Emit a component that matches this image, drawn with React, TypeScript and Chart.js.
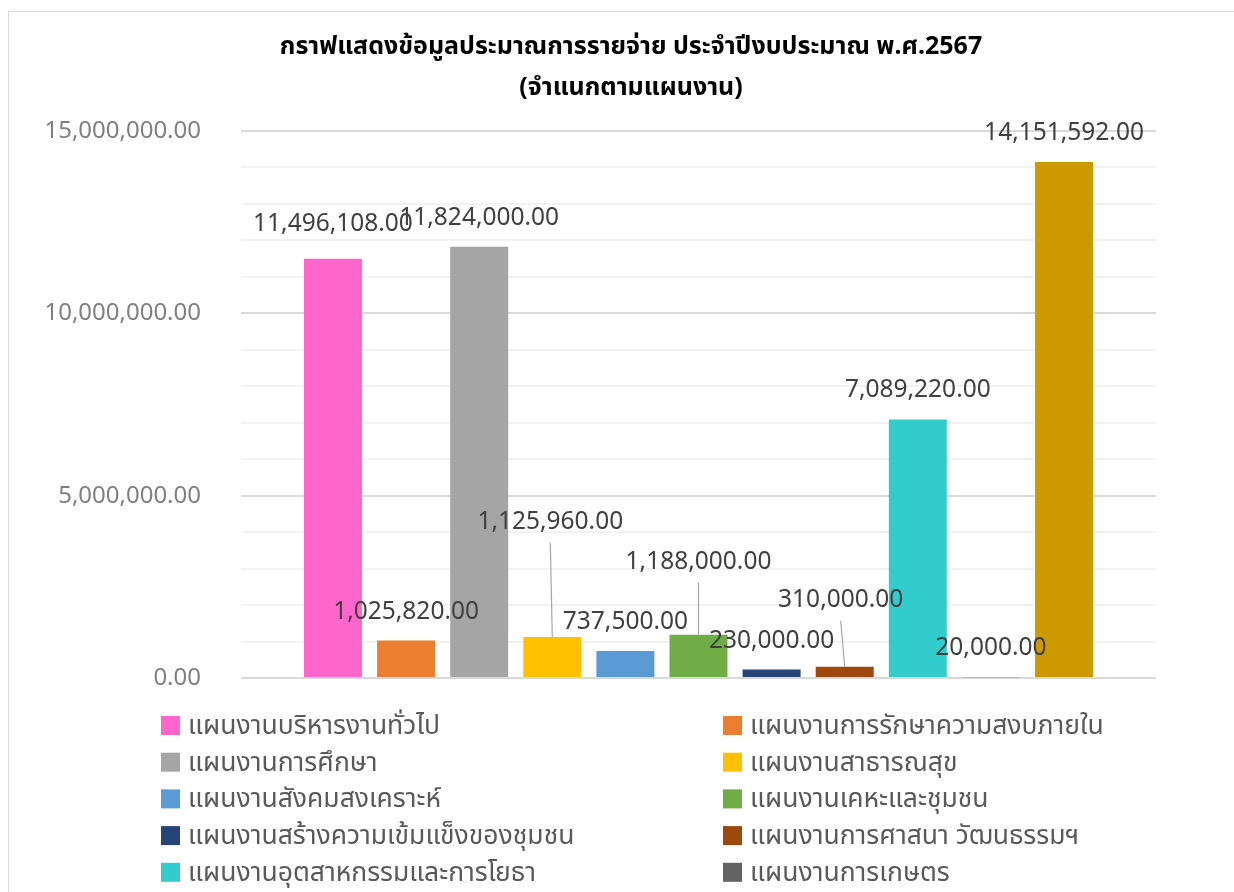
import React, { useEffect, useRef } from "react";
import { Chart, registerables } from "chart.js";

Chart.register(...registerables);

const titleLines = [
  "กราฟแสดงข้อมูลประมาณการรายจ่าย ประจำปีงบประมาณ พ.ศ.2567",
  "(จำแนกตามแผนงาน)",
];

const categories = [
  "แผนงานบริหารงานทั่วไป",
  "แผนงานการรักษาความสงบภายใน",
  "แผนงานการศึกษา",
  "แผนงานสาธารณสุข",
  "แผนงานสังคมสงเคราะห์",
  "แผนงานเคหะและชุมชน",
  "แผนงานสร้างความเข้มแข็งของชุมชน",
  "แผนงานการศาสนา วัฒนธรรมฯ",
  "แผนงานอุตสาหกรรมและการโยธา",
  "แผนงานการเกษตร",
  "งบกลาง",
];

const amounts = [
  11496108, 1025820, 11824000, 1125960, 737500, 1188000, 230000, 310000,
  7089220, 20000, 14151592,
];

const barColors = [
  "#FF66CC", "#ED7D31", "#A5A5A5", "#FFC000", "#5B9BD5", "#70AD47",
  "#264478", "#9E480E", "#33CCCC", "#636363", "#CC9900",
];

const yTickValues = [0, 5000000, 10000000, 15000000];

// label placement tweaks (dx, dy in px) and leader-line flags
const labelShift: [number, number][] = [
  [0, -6], [0, 0], [0, 0], [-2, -86], [0, 0], [0, -44], [0, 0], [-4, -38],
  [0, 0], [0, 0], [0, 0],
];
const labelLeader = [false, false, false, true, false, true, false, true, false, false, false];

const FONT = '"Noto Sans", "Noto Sans Thai", Tahoma, sans-serif';

const fmt = (v: number) =>
  v.toLocaleString("en-US", { minimumFractionDigits: 2, maximumFractionDigits: 2 });

const labelPlugin = {
  id: "barLabels",
  afterDatasetsDraw(chart: any) {
    const ctx = chart.ctx;
    const meta = chart.getDatasetMeta(0);
    ctx.save();
    ctx.font = `24.5px ${FONT}`;
    ctx.textAlign = "center";
    ctx.textBaseline = "middle";
    meta.data.forEach((bar: any, i: number) => {
      const [dx, dy] = labelShift[i];
      const lx = bar.x + dx;
      const ly = bar.y - 29 + dy;
      if (labelLeader[i]) {
        ctx.strokeStyle = "#a6a6a6";
        ctx.lineWidth = 1.2;
        ctx.beginPath();
        ctx.moveTo(lx, ly + 21);
        ctx.lineTo(bar.x, bar.y);
        ctx.stroke();
      }
      ctx.fillStyle = "#404040";
      ctx.fillText(fmt(amounts[i]), lx, ly);
    });
    ctx.restore();
  },
};

const legendPlugin = {
  id: "gridLegend",
  afterDraw(chart: any) {
    const ctx = chart.ctx;
    ctx.save();
    ctx.font = `26.5px ${FONT}`;
    ctx.textAlign = "left";
    ctx.textBaseline = "middle";
    const colX = [152, 714];
    const textGap = 27;
    const row0 = 713.5;
    const rowStep = 36.7;
    categories.forEach((name, i) => {
      const col = i % 2;
      const row = Math.floor(i / 2);
      const cy = row0 + row * rowStep;
      ctx.fillStyle = barColors[i];
      ctx.fillRect(colX[col], cy - 9.5, 19, 19);
      ctx.fillStyle = "#595959";
      ctx.fillText(name, colX[col] + textGap, cy + 1);
    });
    ctx.restore();
  },
};

export default function App() {
  const ref = useRef<HTMLCanvasElement>(null);
  useEffect(() => {
    if (!ref.current) return;
    const chart = new Chart(ref.current, {
      type: "bar",
      data: {
        datasets: [
          {
            data: amounts.map((v, i) => ({ x: i, y: v })),
            backgroundColor: barColors,
            borderWidth: 0,
            categoryPercentage: 1,
            barPercentage: 0.793,
          },
        ],
      },
      options: {
        responsive: false,
        animation: false,
        devicePixelRatio: 1,
        layout: { padding: { left: 0, right: 1, bottom: 214, top: 0 } },
        plugins: {
          legend: { display: false },
          tooltip: { enabled: false },
          title: {
            display: true,
            text: titleLines,
            color: "#000000",
            font: { family: FONT, size: 25, weight: "bold", lineHeight: 1.64 },
            padding: { top: 14, bottom: 23 },
          },
        },
        scales: {
          x: {
            type: "linear",
            display: false,
            min: -1.258,
            max: 11.258,
            offset: false,
          },
          y: {
            min: 0,
            max: 15000000,
            border: { display: false },
            grid: {
              drawTicks: false,
              lineWidth: 2,
              color: (c: any) =>
                c.tick && yTickValues.includes(c.tick.value) ? "#d9d9d9" : "#f2f2f2",
            },
            ticks: {
              stepSize: 1000000,
              padding: 40,
              color: "#7f7f7f",
              font: { family: FONT, size: 24 },
              callback: (v: any) => (yTickValues.includes(Number(v)) ? fmt(Number(v)) : ""),
            },
            afterFit: (scale: any) => {
              scale.width = 232;
            },
          },
          yRight: {
            position: "right",
            display: true,
            border: { display: false },
            grid: { display: false, drawTicks: false },
            ticks: { display: false },
            afterFit: (scale: any) => {
              scale.width = 97;
            },
          },
        },
      },
      plugins: [labelPlugin, legendPlugin],
    });
    return () => chart.destroy();
  }, []);

  return (
    <div
      style={{
        position: "absolute",
        left: 0,
        top: 0,
        width: 1234,
        height: 892,
        overflow: "hidden",
        background: "#ffffff",
      }}
    >
      <div
        style={{
          position: "absolute",
          left: 8,
          top: 11,
          width: 1245,
          height: 880,
          borderLeft: "1px solid #d9d9d9",
          borderTop: "1px solid #d9d9d9",
        }}
      >
        <canvas ref={ref} width={1245} height={880} style={{ display: "block" }} />
      </div>
    </div>
  );
}
